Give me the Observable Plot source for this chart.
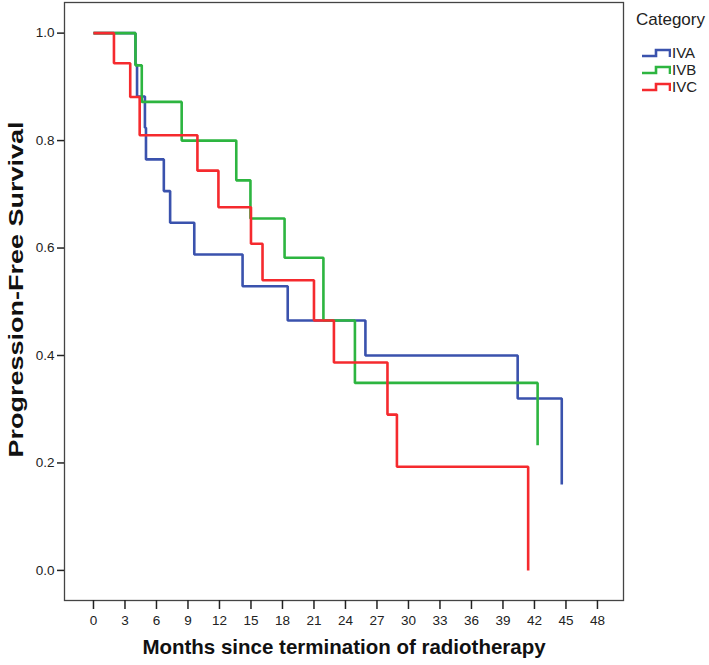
<!DOCTYPE html>
<html>
<head>
<meta charset="utf-8">
<script src="https://cdn.jsdelivr.net/npm/d3@7"></script>
<script src="https://cdn.jsdelivr.net/npm/@observablehq/plot@0.6"></script>
<style>
  html, body { margin: 0; padding: 0; background: #fff; }
  #wrap { position: relative; width: 709px; height: 665px; font-family: "Liberation Sans", Arial, sans-serif; }
  #legend { position: absolute; left: 636px; top: 10px; color: #222; }
  #legend .title { font-size: 17px; line-height: 20px; margin-bottom: 14px; }
  #legend .item { display: flex; align-items: center; height: 17px; font-size: 15px; margin-left: 5px; }
  #legend svg { margin-right: 1px; }
</style>
</head>
<body>
<div id="wrap"><div id="legend"></div></div>
<script>
// Data (Kaplan–Meier steps)
const categories = ["IVA", "IVB", "IVC"];
const colors = ["#3a52ad", "#2db540", "#f52a2e"];

const monthsIVA = [0, 4.0, 4.15, 4.9, 5.0, 6.7, 7.3, 9.6, 14.2, 18.5, 25.9, 40.4, 44.6];
const survIVA   = [1, 0.941, 0.882, 0.824, 0.765, 0.706, 0.647, 0.588, 0.529, 0.465, 0.40, 0.32, 0.16];

const monthsIVB = [0, 4.0, 4.6, 8.4, 13.6, 14.95, 18.2, 21.9, 24.9, 42.3];
const survIVB   = [1, 0.94, 0.872, 0.80, 0.726, 0.655, 0.582, 0.465, 0.349, 0.233];

const monthsIVC = [0, 1.95, 3.5, 4.4, 9.9, 11.9, 15.0, 16.1, 21.0, 22.9, 28.0, 28.9, 41.4];
const survIVC   = [1, 0.944, 0.881, 0.81, 0.744, 0.676, 0.608, 0.54, 0.465, 0.387, 0.29, 0.193, 0];

const xTicks = d3.range(0, 49, 3);
const yTicks = [0, 0.2, 0.4, 0.6, 0.8, 1.0];
const xTitle = "Months since termination of radiotherapy";
const yTitle = "Progression-Free Survival";

const seriesMonths = [monthsIVA, monthsIVB, monthsIVC];
const seriesSurv = [survIVA, survIVB, survIVC];
const rows = [];
categories.forEach((c, i) => {
  seriesMonths[i].forEach((m, j) => rows.push({category: c, month: m, surv: seriesSurv[i][j]}));
});

const chart = Plot.plot({
  width: 709,
  height: 665,
  marginLeft: 64,
  marginRight: 86,
  marginTop: 2,
  marginBottom: 65,
  style: {fontFamily: "'Liberation Sans', Arial, sans-serif", fontSize: "13px", color: "#222", background: "#fff"},
  x: {domain: [-2.76, 50.48]},
  y: {domain: [-0.056, 1.057]},
  color: {domain: categories, range: colors},
  marks: [
    Plot.frame({stroke: "#444", strokeWidth: 1.3}),
    Plot.axisY({ticks: yTicks, tickFormat: d3.format(".1f"), tickSize: 7, tickPadding: 3, label: null, stroke: "#222", strokeWidth: 1.5, fontSize: 13.5}),
    Plot.axisX({ticks: xTicks, tickSize: 9, tickPadding: 6, label: null, stroke: "#222", strokeWidth: 1.5, fontSize: 13.5}),
    Plot.line(rows, {x: "month", y: "surv", z: "category", stroke: "category", curve: "step-after", strokeWidth: 2.6, strokeLinejoin: "miter", strokeLinecap: "butt"}),
    Plot.text([xTitle], {frameAnchor: "bottom", text: d => d, dy: 53, fontWeight: "bold", fontSize: 20.5, fill: "#111", className: "xtitle"}),
    Plot.text([yTitle], {frameAnchor: "left", text: d => d, textAnchor: "middle", dx: -48, dy: -12, rotate: -90, fontWeight: "bold", fontSize: 20, fill: "#111", className: "ytitle"})
  ]
});
document.getElementById("wrap").prepend(chart);

// stretch the y title along its length, like the reference's scaled artwork
const yt = chart.querySelector(".ytitle text");
if (yt) {
  const tr = yt.getAttribute("transform") || "";
  yt.setAttribute("transform", tr + " scale(1.35,1)");
}

// Legend
const legend = document.getElementById("legend");
const t = document.createElement("div");
t.className = "title";
t.textContent = "Category";
legend.appendChild(t);
categories.forEach((c, i) => {
  const item = document.createElement("div");
  item.className = "item";
  item.innerHTML = `<svg width="30" height="14"><path d="M1,10 H15 V4 H29 V11" fill="none" stroke="${colors[i]}" stroke-width="2.6"/></svg><span>${c}</span>`;
  legend.appendChild(item);
});
</script>
</body>
</html>
